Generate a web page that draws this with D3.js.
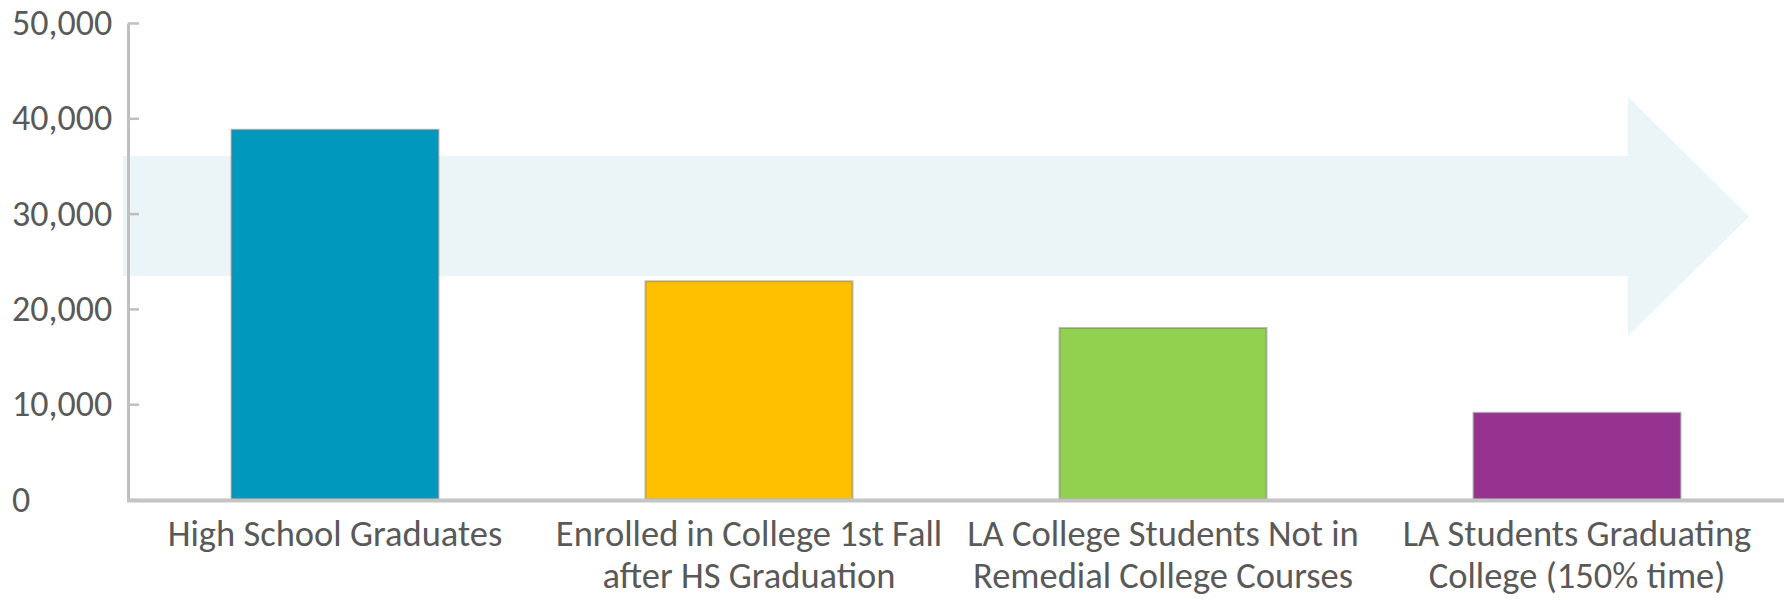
<!DOCTYPE html>
<html lang="en">
<head>
    <meta charset="UTF-8">
    <title>LA pipeline</title>
    <script src="https://d3js.org/d3.v7.min.js"></script>
    <style>
        body { margin: 0; background: #fff; }
        text { font-family: Calibri, Carlito, Lato, sans-serif; fill: #595959; }
    </style>
</head>
<body>
    <script>

        // data
        var categories = ['High School Graduates',
                          'Enrolled in College 1st Fall after HS Graduation',
                          'LA College Students Not in Remedial College Courses',
                          'LA Students Graduating College (150% time)']
        var labelLines = [['High School Graduates'],
                          ['Enrolled in College 1st Fall', 'after HS Graduation'],
                          ['LA College Students Not in', 'Remedial College Courses'],
                          ['LA Students Graduating', 'College (150% time)']]
        var values = [38800, 22900, 18000, 9100]
        var barColors = ['#0098bd', '#ffc000', '#92d050', '#963290']
        var yTicks = [0, 10000, 20000, 30000, 40000, 50000]

        // background arrow, in data units on the y axis
        var arrowShaft = [23450, 36050]
        var arrowHead = [17150, 42250]

        var w = 1790, h = 600
        var plotLeft = 128, plotRight = 1784, plotTop = 23, plotBottom = 499.5

        var svg = d3.select('body')
                    .append('svg')
                    .attr('width', w)
                    .attr('height', h)

        // scales
        var xScale = d3.scaleBand()
                        .domain(categories)
                        .range([plotLeft, plotRight])
                        .paddingInner(0.5)
                        .paddingOuter(0.25)

        var yScale = d3.scaleLinear()
                        .domain([0, 50000])
                        .range([plotBottom, plotTop])

        // arrow behind the bars
        var headX = 1628, tipX = 1749
        var arrowPts = [
            [plotLeft - 5, yScale(arrowShaft[1])],
            [headX, yScale(arrowShaft[1])],
            [headX, yScale(arrowHead[1])],
            [tipX, yScale((arrowHead[0] + arrowHead[1]) / 2)],
            [headX, yScale(arrowHead[0])],
            [headX, yScale(arrowShaft[0])],
            [plotLeft - 5, yScale(arrowShaft[0])]
        ]
        svg.append('polygon')
            .attr('points', arrowPts.map(p => p.join(',')).join(' '))
            .attr('fill', '#ebf4f7')

        // bars
        svg.selectAll('rect.bar')
            .data(values)
            .enter()
            .append('rect')
            .attr('class', 'bar')
            .attr('x', (d, i) => xScale(categories[i]))
            .attr('y', d => yScale(d))
            .attr('width', xScale.bandwidth())
            .attr('height', d => yScale(0) - yScale(d))
            .attr('fill', (d, i) => barColors[i])
            .attr('stroke', 'rgba(110,110,110,0.45)')
            .attr('stroke-width', 2)

        // y axis
        var axisy = d3.axisLeft(yScale)
                        .tickValues(yTicks)
                        .tickSizeInner(-11)
                        .tickSizeOuter(0)
                        .tickFormat(d3.format(','))

        var gy = svg.append('g')
            .attr('transform', 'translate(' + plotLeft + ', 0)')
            .call(axisy)

        gy.select('.domain').attr('stroke', '#bfbfbf').attr('stroke-width', 3)
        gy.selectAll('.tick line').attr('stroke', '#bfbfbf').attr('stroke-width', 2.5)
        gy.selectAll('.tick text')
            .attr('x', 12 - plotLeft)
            .attr('text-anchor', 'start')
            .attr('fill', '#595959')
            .style('font-family', 'Calibri, Carlito, Lato, sans-serif')
            .style('font-size', '36px')

        // baseline
        svg.append('line')
            .attr('x1', plotLeft - 1)
            .attr('x2', plotRight)
            .attr('y1', yScale(0) + 1)
            .attr('y2', yScale(0) + 1)
            .attr('stroke', '#c4c4c4')
            .attr('stroke-width', 4)

        // category labels
        var labels = svg.selectAll('text.cat')
            .data(labelLines)
            .enter()
            .append('text')
            .attr('class', 'cat')
            .attr('text-anchor', 'middle')
            .style('font-size', '36.5px')

        labels.selectAll('tspan')
            .data((d, i) => d.map(t => ({t: t, i: i})))
            .enter()
            .append('tspan')
            .attr('x', d => xScale(categories[d.i]) + xScale.bandwidth() / 2)
            .attr('y', (d, j) => 546 + j * 42)
            .text(d => d.t)

    </script>
</body>
</html>
